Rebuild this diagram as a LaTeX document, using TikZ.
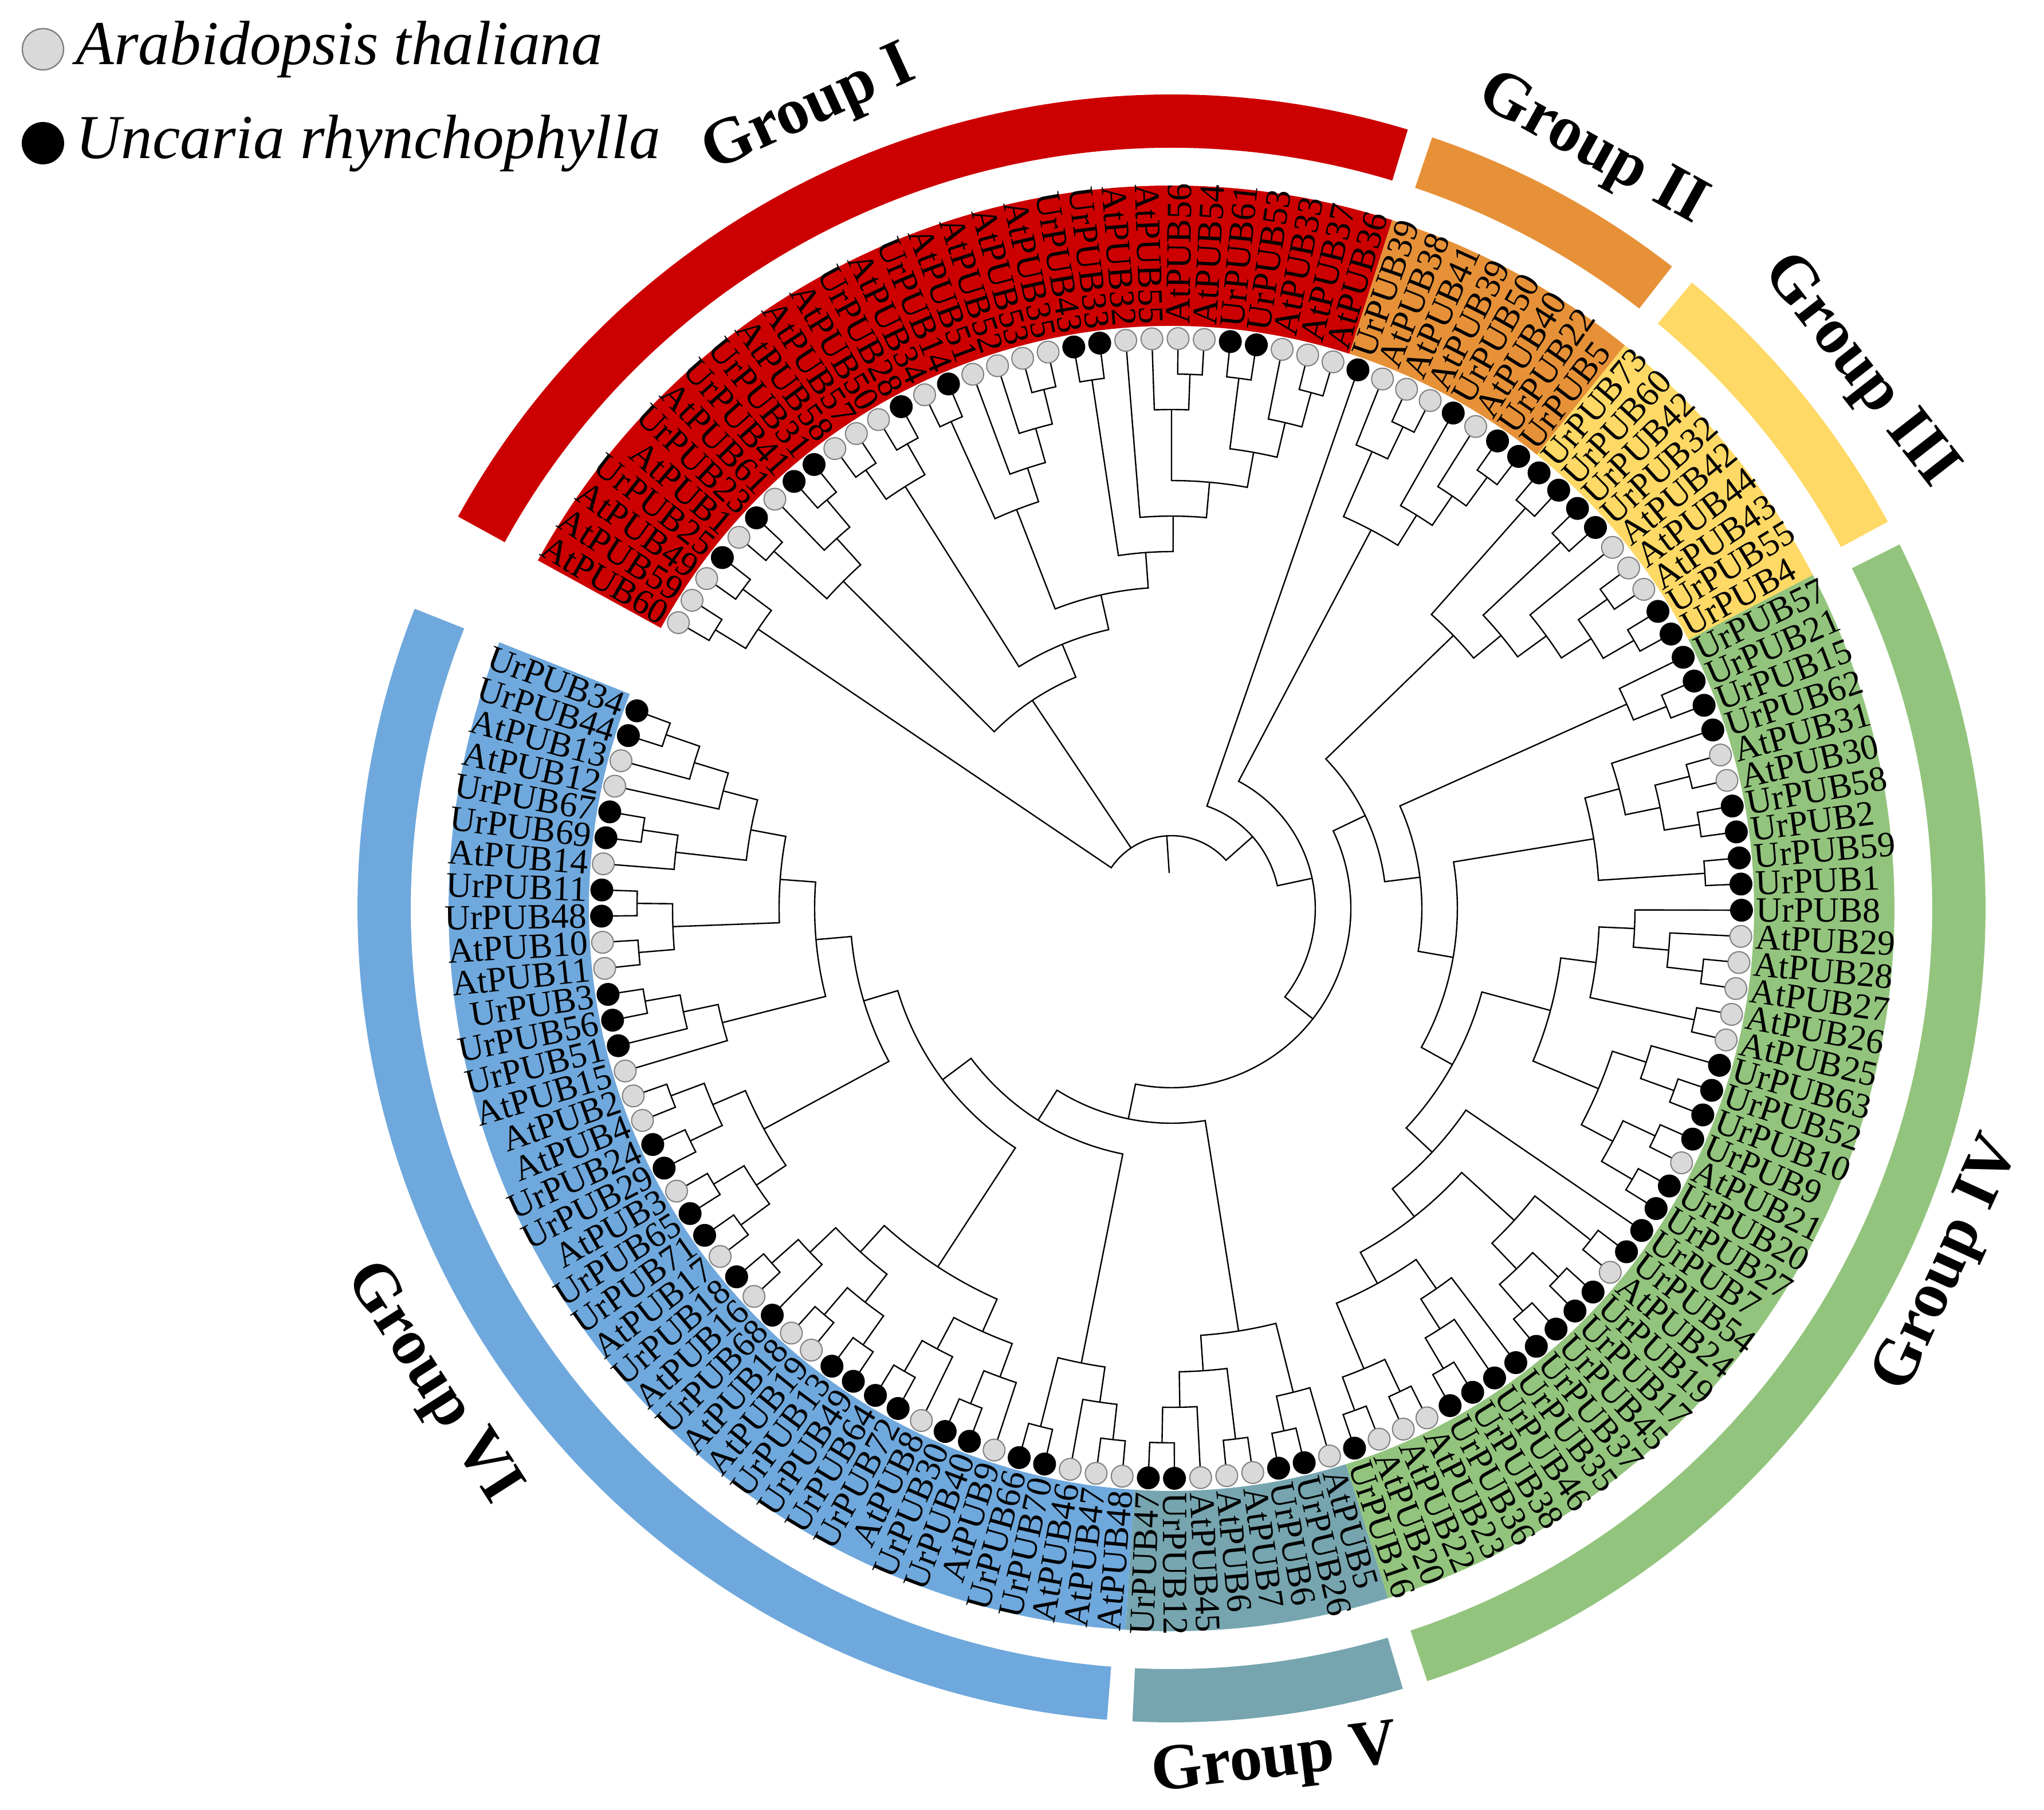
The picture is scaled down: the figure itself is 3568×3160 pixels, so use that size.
\documentclass[tikz,border=0pt]{standalone}
\usepackage{fontspec}
\setmainfont{Liberation Serif}
\definecolor{cI}{HTML}{CC0000}
\definecolor{cII}{HTML}{E69138}
\definecolor{cIII}{HTML}{FFD966}
\definecolor{cIV}{HTML}{93C47D}
\definecolor{cV}{HTML}{76A5AF}
\definecolor{cVI}{HTML}{6FA8DC}
\definecolor{dotfill}{HTML}{D9D9D9}
\definecolor{dotedge}{HTML}{808080}
% clade: name, height, child1, child2
\newcommand\Cl[4]{%
  \pgfmathsetmacro\clR{995-62*#2}%
  \edef\clA{\csname ta#3\endcsname}%
  \edef\clB{\csname ta#4\endcsname}%
  \edef\clRA{\csname tr#3\endcsname}%
  \edef\clRB{\csname tr#4\endcsname}%
  \draw[treeline] (\clA:\clRA) -- (\clA:\clR) arc[start angle=\clA, end angle=\clB, radius=\clR] -- (\clB:\clRB);%
  \pgfmathsetmacro\clM{(\clA+\clB)/2}%
  \expandafter\xdef\csname ta#1\endcsname{\clM}%
  \expandafter\xdef\csname tr#1\endcsname{\clR}%
}
\newcommand\Gband[3]{%
  \pgfmathsetmacro\gbS{149.9-2.633*#2+1.3165}%
  \pgfmathsetmacro\gbE{149.9-2.633*#3-1.3165}%
  \fill[#1] (\gbS:1017) arc[start angle=\gbS, end angle=\gbE, radius=1017] -- (\gbE:1262) arc[start angle=\gbE, end angle=\gbS, radius=1262] -- cycle;%
}
\newcommand\Garc[5]{%
  \pgfmathsetmacro\gbS{149.9-2.633*#2+1.3165-#4}%
  \pgfmathsetmacro\gbE{149.9-2.633*#3-1.3165+#5}%
  \fill[#1] (\gbS:1328) arc[start angle=\gbS, end angle=\gbE, radius=1328] -- (\gbE:1421) arc[start angle=\gbE, end angle=\gbS, radius=1421] -- cycle;%
}
\def\leaflist{0/AtPUB60/a,1/AtPUB59/a,2/AtPUB49/a,3/UrPUB25/u,4/AtPUB1/a,5/UrPUB23/u,6/AtPUB61/a,7/UrPUB41/u,8/UrPUB31/u,9/AtPUB58/a,10/AtPUB57/a,11/AtPUB50/a,12/UrPUB28/u,13/AtPUB34/a,14/UrPUB14/u,15/AtPUB51/a,16/AtPUB52/a,17/AtPUB53/a,18/AtPUB35/a,19/UrPUB43/u,20/UrPUB33/u,21/AtPUB32/a,22/AtPUB55/a,23/AtPUB56/a,24/AtPUB54/a,25/UrPUB61/u,26/UrPUB53/u,27/AtPUB33/a,28/AtPUB37/a,29/AtPUB36/a,%
30/UrPUB39/u,31/AtPUB38/a,32/AtPUB41/a,33/AtPUB39/a,34/UrPUB50/u,35/AtPUB40/a,36/UrPUB22/u,37/UrPUB5/u,%
38/UrPUB73/u,39/UrPUB60/u,40/UrPUB42/u,41/UrPUB32/u,42/AtPUB42/a,43/AtPUB44/a,44/AtPUB43/a,45/UrPUB55/u,46/UrPUB4/u,%
47/UrPUB57/u,48/UrPUB21/u,49/UrPUB15/u,50/UrPUB62/u,51/AtPUB31/a,52/AtPUB30/a,53/UrPUB58/u,54/UrPUB2/u,55/UrPUB59/u,56/UrPUB1/u,57/UrPUB8/u,58/AtPUB29/a,59/AtPUB28/a,60/AtPUB27/a,61/AtPUB26/a,62/AtPUB25/a,63/UrPUB63/u,64/UrPUB52/u,65/UrPUB10/u,66/UrPUB9/u,67/AtPUB21/a,68/UrPUB20/u,69/UrPUB27/u,70/UrPUB7/u,71/UrPUB54/u,72/AtPUB24/a,73/UrPUB19/u,74/UrPUB17/u,75/UrPUB45/u,76/UrPUB37/u,77/UrPUB35/u,78/UrPUB46/u,79/UrPUB38/u,80/UrPUB36/u,81/AtPUB23/a,82/AtPUB22/a,83/AtPUB20/a,84/UrPUB16/u,%
85/AtPUB5/a,86/UrPUB26/u,87/UrPUB6/u,88/AtPUB7/a,89/AtPUB6/a,90/AtPUB45/a,91/UrPUB12/u,92/UrPUB47/u,%
93/AtPUB48/a,94/AtPUB47/a,95/AtPUB46/a,96/UrPUB70/u,97/UrPUB66/u,98/AtPUB9/a,99/UrPUB40/u,100/UrPUB30/u,101/AtPUB8/a,102/UrPUB72/u,103/UrPUB64/u,104/UrPUB49/u,105/UrPUB13/u,106/AtPUB19/a,107/AtPUB18/a,108/UrPUB68/u,109/AtPUB16/a,110/UrPUB18/u,111/AtPUB17/a,112/UrPUB71/u,113/UrPUB65/u,114/AtPUB3/a,115/UrPUB29/u,116/UrPUB24/u,117/AtPUB4/a,118/AtPUB2/a,119/AtPUB15/a,120/UrPUB51/u,121/UrPUB56/u,122/UrPUB3/u,123/AtPUB11/a,124/AtPUB10/a,125/UrPUB48/u,126/UrPUB11/u,127/AtPUB14/a,128/UrPUB69/u,129/UrPUB67/u,130/AtPUB12/a,131/AtPUB13/a,132/UrPUB44/u,133/UrPUB34/u}
\begin{document}
\begin{tikzpicture}[x=0.25pt,y=0.25pt,
  treeline/.style={line width=0.6pt, draw=black},
  dota/.style={circle, fill=dotfill, draw=dotedge, line width=0.5pt, minimum size=9.5pt, inner sep=0pt},
  dotu/.style={circle, fill=black, draw=black, line width=0.5pt, minimum size=9.5pt, inner sep=0pt},
  lab/.style={inner sep=0pt, font=\fontsize{15.5}{16}\selectfont},
  grp/.style={inner sep=0pt, font=\fontsize{28.5}{30}\selectfont\bfseries},
  leg/.style={inner sep=0pt, anchor=west, font=\fontsize{27.3}{29}\selectfont\itshape}]
\useasboundingbox (-2045,-1574) rectangle (1523,1586);
% coloured label bands
\Gband{cI}{0}{29}
\Gband{cII}{30}{37}
\Gband{cIII}{38}{46}
\Gband{cIV}{47}{84}
\Gband{cV}{85}{92}
\Gband{cVI}{93}{133}
% outer group arcs
\Garc{cI}{0}{29}{0}{0.9}
\Garc{cII}{30}{37}{0.9}{0.9}
\Garc{cIII}{38}{46}{0.9}{0.9}
\Garc{cIV}{47}{84}{0.9}{0.9}
\Garc{cV}{85}{92}{0.9}{0.9}
\Garc{cVI}{93}{133}{0.9}{0}
% leaf angles
\foreach \i/\lab/\ty in \leaflist {%
  \pgfmathsetmacro\tang{149.9-2.633*\i}%
  \expandafter\xdef\csname ta\i\endcsname{\tang}%
  \expandafter\xdef\csname tr\i\endcsname{995}%
}
% ---- Group I
\Cl{pa}{1}{0}{1}
\Cl{pb}{1}{2}{3}
\Cl{A}{2}{pa}{pb}
\Cl{pc}{1}{4}{5}
\Cl{pd}{1}{7}{8}
\Cl{qa}{2}{6}{pd}
\Cl{Bone}{3}{pc}{qa}
\Cl{pe}{1}{9}{10}
\Cl{pf}{1}{11}{12}
\Cl{Btwoa}{2}{pe}{pf}
\Cl{pg}{1}{13}{14}
\Cl{ph}{1}{17}{18}
\Cl{qb}{2}{16}{ph}
\Cl{qc}{3}{15}{qb}
\Cl{Bbone}{4}{pg}{qc}
\Cl{pi}{1}{19}{20}
\Cl{pj}{1}{23}{24}
\Cl{qd}{2}{22}{pj}
\Cl{pk}{1}{25}{26}
\Cl{pl}{1}{28}{29}
\Cl{qe}{2}{27}{pl}
\Cl{qf}{3}{pk}{qe}
\Cl{qg}{4}{qd}{qf}
\Cl{qh}{5}{21}{qg}
\Cl{Bbtwo}{6}{pi}{qh}
\Cl{Btwob}{7}{Bbone}{Bbtwo}
\Cl{Btwo}{8}{Btwoa}{Btwob}
\Cl{B}{9}{Bone}{Btwo}
% ---- Group II
\Cl{pm}{1}{32}{33}
\Cl{qi}{2}{31}{pm}
\Cl{pn}{1}{36}{37}
\Cl{qj}{2}{35}{pn}
\Cl{qk}{3}{34}{qj}
\Cl{Done}{4}{qi}{qk}
% ---- Group III
\Cl{po}{1}{38}{39}
\Cl{pp}{1}{40}{41}
\Cl{pq}{1}{43}{44}
\Cl{pr}{1}{45}{46}
\Cl{ql}{2}{pq}{pr}
\Cl{qm}{3}{42}{ql}
\Cl{qn}{4}{pp}{qm}
\Cl{III}{5}{po}{qn}
% ---- Group IV
\Cl{ps}{1}{48}{49}
\Cl{Fone}{2}{47}{ps}
\Cl{pt}{1}{51}{52}
\Cl{pu}{1}{53}{54}
\Cl{qo}{2}{pt}{pu}
\Cl{qp}{3}{50}{qo}
\Cl{pv}{1}{55}{56}
\Cl{Ftwoa}{4}{qp}{pv}
\Cl{pw}{1}{59}{60}
\Cl{qq}{2}{58}{pw}
\Cl{qr}{3}{57}{qq}
\Cl{px}{1}{61}{62}
\Cl{Zone}{4}{qr}{px}
\Cl{py}{1}{64}{65}
\Cl{qs}{2}{63}{py}
\Cl{pz}{1}{66}{67}
\Cl{paa}{1}{68}{69}
\Cl{qt}{2}{pz}{paa}
\Cl{Ztwo}{3}{qs}{qt}
\Cl{Fbone}{5}{Zone}{Ztwo}
\Cl{pab}{1}{71}{72}
\Cl{pac}{1}{73}{74}
\Cl{pad}{1}{75}{76}
\Cl{qu}{2}{pac}{pad}
\Cl{Gone}{3}{pab}{qu}
\Cl{pae}{1}{79}{80}
\Cl{qv}{2}{78}{pae}
\Cl{qw}{3}{77}{qv}
\Cl{paf}{1}{81}{82}
\Cl{pag}{1}{83}{84}
\Cl{qx}{2}{paf}{pag}
\Cl{Gtwo}{4}{qw}{qx}
\Cl{Gb}{5}{Gone}{Gtwo}
\Cl{Fbtwo}{6}{70}{Gb}
\Cl{Ftwob}{7}{Fbone}{Fbtwo}
\Cl{Ftwo}{8}{Ftwoa}{Ftwob}
\Cl{F}{9}{Fone}{Ftwo}
\Cl{Eone}{10}{III}{F}
% ---- Group V
\Cl{pah}{1}{91}{92}
\Cl{qy}{2}{90}{pah}
\Cl{pai}{1}{88}{89}
\Cl{qz}{3}{pai}{qy}
\Cl{paj}{1}{86}{87}
\Cl{qba}{2}{85}{paj}
\Cl{V}{4}{qba}{qz}
% ---- Group VI
\Cl{pak}{1}{93}{94}
\Cl{qbb}{2}{pak}{95}
\Cl{pal}{1}{96}{97}
\Cl{Etwoatwo}{3}{qbb}{pal}
\Cl{pam}{1}{99}{100}
\Cl{qbc}{2}{98}{pam}
\Cl{pan}{1}{102}{103}
\Cl{qbd}{2}{101}{pan}
\Cl{Hone}{3}{qbc}{qbd}
\Cl{pao}{1}{104}{105}
\Cl{pap}{1}{106}{107}
\Cl{qbe}{2}{pao}{pap}
\Cl{paq}{1}{109}{110}
\Cl{qbf}{2}{108}{paq}
\Cl{Htwo}{3}{qbe}{qbf}
\Cl{Eaa}{4}{Hone}{Htwo}
\Cl{par}{1}{111}{112}
\Cl{pas}{1}{113}{114}
\Cl{pat}{1}{115}{116}
\Cl{pau}{1}{117}{118}
\Cl{qbg}{2}{par}{pas}
\Cl{qbh}{2}{pat}{pau}
\Cl{Wone}{3}{qbg}{qbh}
\Cl{pav}{1}{121}{122}
\Cl{qbi}{2}{120}{pav}
\Cl{Wtwo}{3}{119}{qbi}
\Cl{paw}{1}{123}{124}
\Cl{pax}{1}{125}{126}
\Cl{Wthreea}{2}{paw}{pax}
\Cl{pay}{1}{128}{129}
\Cl{Wthreeb}{2}{127}{pay}
\Cl{paz}{1}{132}{133}
\Cl{qbj}{2}{131}{paz}
\Cl{Wfour}{3}{130}{qbj}
\Cl{Xone}{4}{Wthreeb}{Wfour}
\Cl{Xtwo}{5}{Wthreea}{Xone}
\Cl{Xthree}{6}{Wtwo}{Xtwo}
\Cl{Eab}{7}{Wone}{Xthree}
\Cl{Etwoaone}{8}{Eaa}{Eab}
\Cl{Etwoa}{9}{Etwoaone}{Etwoatwo}
\Cl{Etwo}{10}{Etwoa}{V}
\Cl{E}{11}{Eone}{Etwo}
\Cl{D}{12}{Done}{E}
\Cl{C}{13}{30}{D}
% ---- root
\edef\rtA{\csname taA\endcsname}\edef\rtB{\csname taB\endcsname}\edef\rtC{\csname taC\endcsname}
\edef\rrA{\csname trA\endcsname}\edef\rrB{\csname trB\endcsname}\edef\rrC{\csname trC\endcsname}
\pgfmathsetmacro\rtM{(\rtA+\rtC)/2}
\draw[treeline] (\rtA:\rrA) -- (\rtA:127) arc[start angle=\rtA, end angle=\rtC, radius=127] -- (\rtC:\rrC);
\draw[treeline] (\rtB:127) -- (\rtB:\rrB);
\draw[treeline] (\rtM:127) -- (\rtM:62);
% ---- leaves: dots and labels
\foreach \i/\lab/\ty in \leaflist {%
  \pgfmathsetmacro\tang{149.9-2.633*\i}%
  \if a\ty \node[dota] (d\i) at (\tang:995) {};\else \node[dotu] (d\i) at (\tang:995) {};\fi
  \ifdim\tang pt>90pt \pgfmathsetmacro\trot{\tang+180}\def\tanc{east}%
  \else\ifdim\tang pt<-90pt \pgfmathsetmacro\trot{\tang+180}\def\tanc{east}%
  \else \let\trot\tang\def\tanc{west}\fi\fi
  \node[lab, anchor=\tanc, rotate=\trot] (l\i) at (\tang:1020) {\lab};%
}
% ---- group labels
\node[grp, rotate=24.4] (gI) at (114.4:1529) {Group I};
\node[grp, rotate=-29] (gII) at (61:1513) {Group II};
\node[grp, rotate=-52] (gIII) at (38:1522) {Group III};
\node[grp, rotate=65.4] (gIV) at (-24.6:1493) {Group IV};
\node[grp, rotate=6.9] (gV) at (-83.1:1501) {Group V};
\node[grp, rotate=-57.3] (gVI) at (212.7:1536) {Group VI};
% ---- legend
\node[dota, minimum size=18pt, line width=0.6pt] (lg1) at (-1970,1500) {};
\node[leg] (lt1) at (-1913,1500) {Arabidopsis thaliana};
\node[dotu, minimum size=18pt] (lg2) at (-1970,1336) {};
\node[leg] (lt2) at (-1913,1336) {Uncaria rhynchophylla};
\end{tikzpicture}
\end{document}
